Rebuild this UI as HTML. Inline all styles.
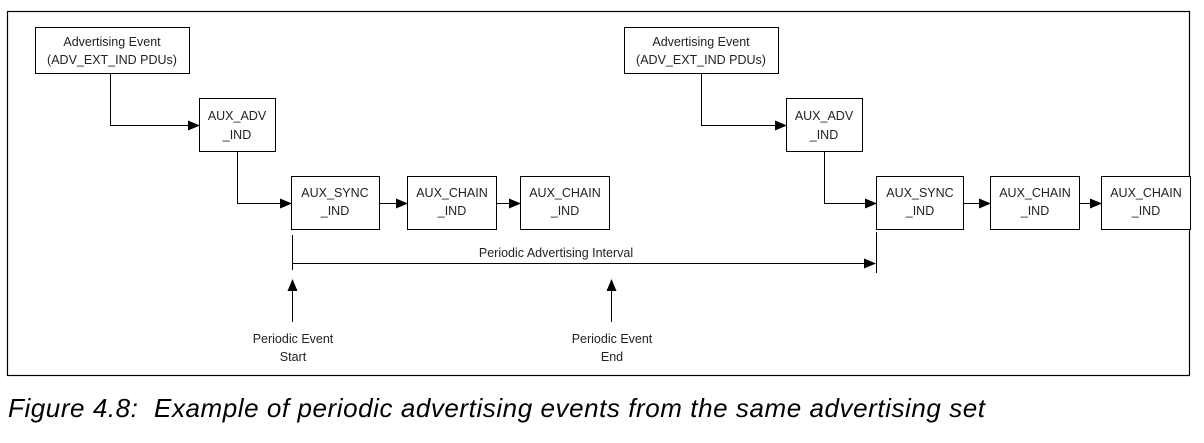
<!DOCTYPE html>
<html><head><style>
body{margin:0;background:#fff;width:1204px;height:438px;overflow:hidden}
svg text{font-family:"Liberation Sans",sans-serif;font-size:12.5px;fill:#222}
</style></head><body>
<svg width="1204" height="438" xmlns="http://www.w3.org/2000/svg">
<defs><marker id="a" markerWidth="12" markerHeight="10" refX="11" refY="5" orient="auto" markerUnits="userSpaceOnUse"><path d="M0,0L12,5L0,10z" fill="#000"/></marker></defs>
<rect x="7.5" y="11.5" width="1182" height="364" fill="none" stroke="#000" stroke-width="1.2"/>
<g fill="#fff" stroke="#000" stroke-width="1">
<rect x="35.5" y="27.5" width="154" height="46"/>
<rect x="199.5" y="98.5" width="76" height="53"/>
<rect x="291.5" y="176.5" width="88" height="53"/>
<rect x="407.5" y="176.5" width="89" height="53"/>
<rect x="520.5" y="176.5" width="89" height="53"/>
<rect x="624.5" y="27.5" width="154" height="46"/>
<rect x="786.5" y="98.5" width="76" height="53"/>
<rect x="876.5" y="176.5" width="87" height="53"/>
<rect x="990.5" y="176.5" width="89" height="53"/>
<rect x="1101.5" y="176.5" width="89" height="53"/>
</g>
<g fill="none" stroke="#000" stroke-width="1">
<path d="M110.5 74V125.5H199" marker-end="url(#a)"/>
<path d="M237.5 152V203.5H291" marker-end="url(#a)"/>
<path d="M380 203.5H407" marker-end="url(#a)"/>
<path d="M497 203.5H520" marker-end="url(#a)"/>
<path d="M701.5 74V125.5H786" marker-end="url(#a)"/>
<path d="M824.5 152V203.5H876" marker-end="url(#a)"/>
<path d="M964 203.5H990" marker-end="url(#a)"/>
<path d="M1080 203.5H1101" marker-end="url(#a)"/>
<path d="M292.5 235V270"/>
<path d="M876.5 232V273"/>
<path d="M292.5 263.5H875" marker-end="url(#a)"/>
<path d="M292.5 322V280" marker-end="url(#a)"/>
<path d="M611.5 322V280" marker-end="url(#a)"/>
</g>
<g text-anchor="middle">
<text x="112" y="46">Advertising Event</text><text x="112" y="64">(ADV_EXT_IND PDUs)</text>
<text x="237" y="120">AUX_ADV</text><text x="237" y="139">_IND</text>
<text x="335" y="197">AUX_SYNC</text><text x="335" y="215">_IND</text>
<text x="452" y="197">AUX_CHAIN</text><text x="452" y="215">_IND</text>
<text x="565" y="197">AUX_CHAIN</text><text x="565" y="215">_IND</text>
<text x="701" y="46">Advertising Event</text><text x="701" y="64">(ADV_EXT_IND PDUs)</text>
<text x="824" y="120">AUX_ADV</text><text x="824" y="139">_IND</text>
<text x="920" y="197">AUX_SYNC</text><text x="920" y="215">_IND</text>
<text x="1035" y="197">AUX_CHAIN</text><text x="1035" y="215">_IND</text>
<text x="1146" y="197">AUX_CHAIN</text><text x="1146" y="215">_IND</text>
<text x="556" y="257">Periodic Advertising Interval</text>
<text x="293" y="343">Periodic Event</text><text x="293" y="361">Start</text>
<text x="612" y="343">Periodic Event</text><text x="612" y="361">End</text>
</g>
<text x="8" y="417" textLength="977" lengthAdjust="spacing" xml:space="preserve" style="font-size:26px;font-style:italic;fill:#000;white-space:pre">Figure 4.8:  Example of periodic advertising events from the same advertising set</text>
</svg>
</body></html>
